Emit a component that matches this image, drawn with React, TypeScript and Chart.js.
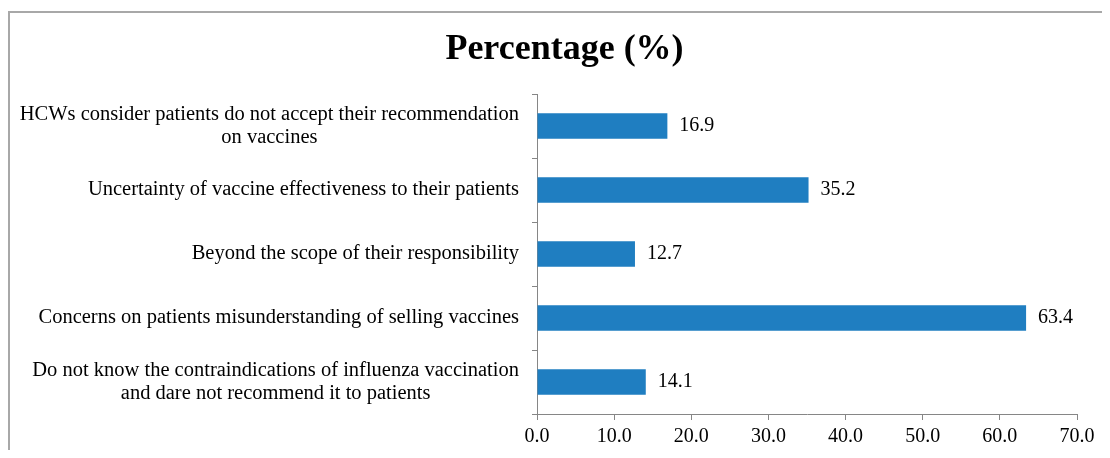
import React, { useEffect, useRef } from "react";
import { Chart, registerables } from "chart.js";

Chart.register(...registerables);

const titleText = "Percentage (%)";
const categories: string[][] = [
  ["HCWs consider patients do not accept their recommendation", "on vaccines"],
  ["Uncertainty of vaccine effectiveness to their patients"],
  ["Beyond the scope of their responsibility"],
  ["Concerns on patients misunderstanding of selling vaccines"],
  ["Do not know the contraindications of influenza vaccination", "and dare not recommend it to patients"],
];
const percentages: number[] = [16.9, 35.2, 12.7, 63.4, 14.1];
const xTickMin = 0;
const xTickMax = 70;
const xTickStep = 10;

const FONT = "'Liberation Serif', 'Times New Roman', serif";
const AXIS_COLOR = "#868686";
const BAR_COLOR = "#1F7EC1";

const labelPlugin = {
  id: "customLabels",
  afterDraw(chart: any) {
    const { ctx, chartArea } = chart;
    const yScale = chart.scales.y;
    const xScale = chart.scales.x;
    ctx.save();
    ctx.fillStyle = "#000";
    ctx.font = `20.5px ${FONT}`;
    ctx.textBaseline = "middle";
    const lineH = 23;
    const rightEdge = chartArea.left - 18;
    categories.forEach((lines, i) => {
      const cy = yScale.getPixelForValue(i);
      let maxW = 0;
      lines.forEach((l) => {
        maxW = Math.max(maxW, ctx.measureText(l).width);
      });
      const cx = rightEdge - maxW / 2;
      ctx.textAlign = "center";
      const startY = cy - ((lines.length - 1) * lineH) / 2;
      lines.forEach((l, j) => {
        ctx.fillText(l, cx, startY + j * lineH);
      });
    });
    // value labels
    ctx.font = `20px ${FONT}`;
    const meta = chart.getDatasetMeta(0);
    ctx.textAlign = "left";
    meta.data.forEach((bar: any, i: number) => {
      const v = percentages[i];
      const x = xScale.getPixelForValue(v) + 12;
      ctx.fillText(v.toFixed(1), x, bar.y);
    });
    ctx.restore();
  },
};

export default function App() {
  const ref = useRef<HTMLCanvasElement | null>(null);
  useEffect(() => {
    if (!ref.current) return;
    const chart = new Chart(ref.current, {
      type: "bar",
      data: {
        labels: categories.map((c) => c.join(" ")),
        datasets: [
          {
            data: percentages,
            backgroundColor: BAR_COLOR,
            borderWidth: 0,
            barPercentage: 0.4,
            categoryPercentage: 1,
          },
        ],
      },
      plugins: [labelPlugin],
      options: {
        indexAxis: "y",
        animation: false,
        responsive: false,
        maintainAspectRatio: false,
        layout: { padding: { left: 42, right: 33, top: 0, bottom: 0 } },
        plugins: {
          legend: { display: false },
          tooltip: { enabled: false },
          title: {
            display: true,
            text: titleText,
            color: "#000",
            font: { family: FONT, size: 36, weight: "bold", lineHeight: 1.2 },
            padding: { top: 15, bottom: 22.8 },
          },
        },
        scales: {
          x: {
            min: xTickMin,
            max: xTickMax,
            grid: {
              drawOnChartArea: false,
              drawTicks: true,
              tickLength: 6,
              color: AXIS_COLOR,
            },
            border: { display: true, color: AXIS_COLOR, width: 1 },
            ticks: {
              stepSize: xTickStep,
              color: "#000",
              padding: 5,
              font: { family: FONT, size: 20 },
              callback: (v: any) => Number(v).toFixed(1),
            },
            afterFit: (scale: any) => {
              scale.height = 36;
            },
          },
          y: {
            grid: {
              drawOnChartArea: false,
              drawTicks: true,
              tickLength: 5,
              color: AXIS_COLOR,
              offset: true,
            },
            border: { display: true, color: AXIS_COLOR, width: 1 },
            ticks: { display: false },
            afterFit: (scale: any) => {
              scale.width = 485;
            },
          },
        },
      },
    });
    return () => chart.destroy();
  }, []);

  return (
    <div
      style={{
        marginTop: 3,
        borderTop: "2px solid #a8a8a8",
        borderLeft: "2px solid #a8a8a8",
        width: 1100,
        height: 437,
        background: "#fff",
      }}
    >
      <canvas ref={ref} width={1100} height={437} style={{ display: "block", width: 1100, height: 437 }} />
    </div>
  );
}
